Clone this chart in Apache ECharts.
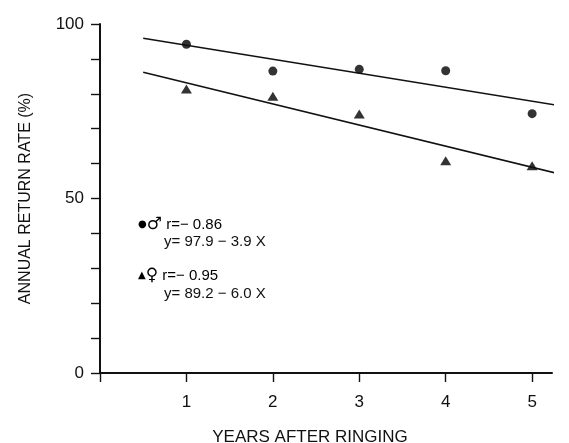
<html>
<head>
<meta charset="utf-8">
<script src="https://cdn.jsdelivr.net/npm/echarts@6/dist/echarts.min.js"></script>
<style>
  body { margin: 0; background: #fff; }
  #chart { width: 569px; height: 443px; }
</style>
</head>
<body>
<div id="chart"></div>
<script>
// values
var years = [1, 2, 3, 4, 5];
var maleRate = [94.2, 86.5, 87.0, 86.6, 74.3];
var femaleRate = [81.4, 79.3, 74.2, 60.8, 59.4];
// regression lines, end points
var maleFit = [[0.5, 95.9], [5.42, 76.2]];
var femaleFit = [[0.5, 86.2], [5.42, 56.4]];
var xTicks = [0, 1, 2, 3, 4, 5];
var xLabels = [1, 2, 3, 4, 5];
var yTicks = [0, 10, 20, 30, 40, 50, 60, 70, 80, 90, 100];
var yLabels = [0, 50, 100];

var font = 'Liberation Sans, Arial, sans-serif';

var chart = echarts.init(document.getElementById('chart'));

// rich style for the sex symbols in the annotation
var rich = {
    dot: { fontSize: 10, fontFamily: 'DejaVu Sans', color: '#111' },
    sex: { fontSize: 17, fontFamily: 'DejaVu Sans', color: '#111' },
    t: { fontSize: 15, fontFamily: font, color: '#111' }
};

var option = {
    backgroundColor: '#fff',
    animation: false,
    grid: { left: 100, top: 24, width: 452, height: 349, containLabel: false, outerBoundsMode: 'none' },
    xAxis: {
        type: 'value',
        min: 0,
        max: 5.23,
        name: 'YEARS AFTER RINGING',
        nameLocation: 'middle',
        nameGap: 56,
        nameTextStyle: { color: '#111', fontSize: 17, fontFamily: font, padding: [0, 32, 0, 0] },
        axisLine: { lineStyle: { color: '#111', width: 2 } },
        axisTick: { length: 9, lineStyle: { color: '#111', width: 1.4 }, customValues: xTicks },
        axisLabel: { color: '#111', fontSize: 17, fontFamily: font, margin: 21, customValues: xLabels },
        splitLine: { show: false }
    },
    yAxis: {
        type: 'value',
        min: 0,
        max: 100,
        name: 'ANNUAL RETURN RATE (%)',
        nameLocation: 'middle',
        nameGap: 66,
        nameTextStyle: { color: '#111', fontSize: 16, fontFamily: font },
        axisLine: { show: true, lineStyle: { color: '#111', width: 2 } },
        axisTick: { show: true, length: 9, lineStyle: { color: '#111', width: 1.4 }, customValues: yTicks },
        axisLabel: { color: '#111', fontSize: 17, fontFamily: font, margin: 16, customValues: yLabels },
        splitLine: { show: false }
    },
    series: [
        {
            name: 'male',
            type: 'scatter',
            symbol: 'circle',
            symbolSize: 9,
            itemStyle: { color: '#000' },
            data: years.map(function (x, i) { return [x, maleRate[i]]; })
        },
        {
            name: 'female',
            type: 'scatter',
            symbol: 'triangle',
            symbolSize: [11, 9],
            itemStyle: { color: '#000' },
            data: years.map(function (x, i) { return [x, femaleRate[i]]; })
        },
        {
            name: 'male fit',
            type: 'line',
            clip: false,
            showSymbol: false,
            lineStyle: { color: '#111', width: 1.5 },
            data: maleFit
        },
        {
            name: 'female fit',
            type: 'line',
            clip: false,
            showSymbol: false,
            lineStyle: { color: '#111', width: 1.5 },
            data: femaleFit
        }
    ],
    graphic: [
        { type: 'text', left: 138, top: 216, style: { text: '{dot|\u25CF}{sex|\u2642}{t| r=\u2212 0.86}', rich: rich } },
        { type: 'text', left: 164, top: 234, style: { text: 'y= 97.9 \u2212 3.9 X', fontSize: 15, fontFamily: font, fill: '#111' } },
        { type: 'text', left: 138, top: 267, style: { text: '{dot|\u25B2}{sex|\u2640}{t| r=\u2212 0.95}', rich: rich } },
        { type: 'text', left: 164, top: 286, style: { text: 'y= 89.2 \u2212 6.0 X', fontSize: 15, fontFamily: font, fill: '#111' } }
    ]
};

chart.setOption(option);
</script>
</body>
</html>
